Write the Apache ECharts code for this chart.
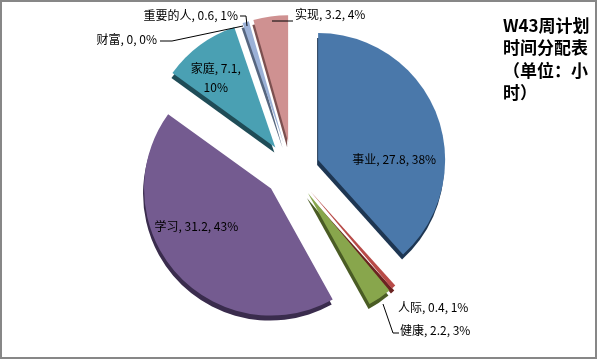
<!DOCTYPE html>
<html><head><meta charset="utf-8">
<script src="https://cdn.jsdelivr.net/npm/echarts@6/dist/echarts.min.js"></script>
<style>html,body{margin:0;padding:0;background:#fff}#c{width:597px;height:359px}</style>
</head><body><div id="c"></div>
<script>
// ---- data ----
const categories = ['事业', '人际', '健康', '学习', '家庭', '财富', '重要的人', '实现'];
const hours = [27.8, 0.4, 2.2, 31.2, 7.1, 0, 0.6, 3.2];
const titleLines = ['W43周计划', '时间分配表', '（单位：小', '时）'];

// ---- styles ----
const topColors  = ['#4a78aa', '#b84b48', '#88a64c', '#745b90', '#4aa0b3', '#f79646', '#9bb1d7', '#cf9191'];
const sideColors = ['#1e3652', '#6b2321', '#4a5c24', '#3a2c4d', '#1f4c57', '#7a4418', '#56667f', '#7c5050'];
const FONT = '"Noto Sans CJK SC", "Noto Sans", sans-serif';

// label placement (layout only, not data)
const insidePlace = {
  0: { dx: 14, dy: 23 },
  3: { dx: -25, dy: -6 },
  4: { dx: -20, dy: -16 }
};
const outsidePlace = {
  1: { x: 398, y: 307, align: 'left', line: null },
  2: { x: 400, y: 330, align: 'left', line: [[383, 304], [393, 333], [399, 333]] },
  5: { x: 157, y: 39, align: 'right', line: [[243, 26], [172, 41], [160, 41]] },
  6: { x: 238, y: 15, align: 'right', line: [[247, 26], [246, 16], [240, 16]] },
  7: { x: 295, y: 14, align: 'left', line: [[272, 21], [293, 21]] }
};

const center = [292, 170];
const radius = 127;
const explode = 28;

const fmt = p => p.dataIndex === 4
  ? p.name + ', ' + p.value + ',\n' + p.percent + '%'
  : p.name + ', ' + p.value + ', ' + p.percent + '%';

const topData = categories.map((name, i) => ({
  name, value: hours[i], selected: true,
  itemStyle: { color: topColors[i] },
  label: { show: insidePlace[i] !== undefined }
}));
const sideData = categories.map((name, i) => ({
  name, value: hours[i], selected: true,
  itemStyle: { color: sideColors[i] }
}));
const labelData = categories.map((name, i) => ({
  name, value: hours[i],
  label: { show: outsidePlace[i] !== undefined },
  labelLine: { show: outsidePlace[i] !== undefined && outsidePlace[i].line !== null }
}));

const chart = echarts.init(document.getElementById('c'), null, { renderer: 'canvas' });
chart.setOption({
  animation: false,
  backgroundColor: '#fff',
  title: {
    text: titleLines.join('\n'),
    left: 498, top: 9,
    textStyle: { fontFamily: FONT, fontSize: 17, fontWeight: 'bold', color: '#000', lineHeight: 22.5 }
  },
  graphic: [{
    type: 'rect', silent: true, z: 100,
    shape: { x: 1, y: 1, width: 595, height: 357 },
    style: { fill: 'none', stroke: '#878787', lineWidth: 2 }
  }],
  series: [
    {
      type: 'pie', name: 'side', silent: true, z: 1,
      center: [center[0] - 1, center[1] + 5], radius: radius,
      startAngle: 90, clockwise: true,
      selectedMode: 'multiple', selectedOffset: explode,
      label: { show: false }, labelLine: { show: false },
      emphasis: { disabled: true },
      select: { itemStyle: { borderWidth: 0 } },
      data: sideData
    },
    {
      type: 'pie', name: 'top', silent: true, z: 2,
      center: center, radius: radius,
      startAngle: 90, clockwise: true,
      selectedMode: 'multiple', selectedOffset: explode,
      percentPrecision: 0,
      emphasis: { disabled: true },
      select: { itemStyle: { borderWidth: 0 } },
      label: {
        position: 'inside', fontFamily: FONT, fontSize: 12, color: '#000',
        formatter: fmt, lineHeight: 19, align: 'center'
      },
      labelLine: { show: false },
      labelLayout: function (p) {
        const o = insidePlace[p.dataIndex];
        return o ? { dx: o.dx, dy: o.dy } : {};
      },
      data: topData
    },
    {
      type: 'pie', name: 'labels', silent: true, z: 3,
      center: center, radius: radius,
      startAngle: 90, clockwise: true,
      percentPrecision: 0,
      emphasis: { disabled: true },
      itemStyle: { color: 'rgba(0,0,0,0)', borderWidth: 0 },
      label: {
        position: 'outside', fontFamily: FONT, fontSize: 12, color: '#000', opacity: 1,
        formatter: fmt
      },
      labelLine: { lineStyle: { color: '#000', width: 1, opacity: 1 }, length: 10, length2: 10 },
      labelLayout: function (p) {
        const o = outsidePlace[p.dataIndex];
        if (!o) return {};
        const r = { x: o.x, y: o.y, align: o.align, verticalAlign: 'middle' };
        if (o.line) r.labelLinePoints = o.line;
        return r;
      },
      data: labelData
    }
  ]
});
</script>
</body></html>
